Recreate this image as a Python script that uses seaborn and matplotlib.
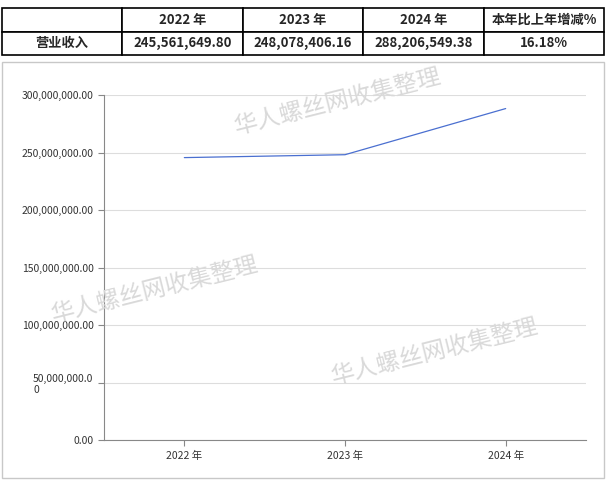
import matplotlib
matplotlib.use('Agg')
import matplotlib.pyplot as plt
import seaborn as sns
import pandas as pd
from matplotlib.patches import Rectangle

# datos
years = ['2022 年', '2023 年', '2024 年']
revenue = [245561649.80, 248078406.16, 288206549.38]
growth = '16.18%'
y_ticks = [0, 50e6, 100e6, 150e6, 200e6, 250e6, 300e6]
y_labels = ['0.00', '50,000,000.0\n0', '100,000,000.00', '150,000,000.00',
            '200,000,000.00', '250,000,000.00', '300,000,000.00']

sns.set_style('white')
plt.rcParams['font.family'] = ['Noto Sans CJK SC', 'DejaVu Sans']

fig = plt.figure(figsize=(6.06, 4.82), dpi=100)

# tabla superior
tax = fig.add_axes([2/606, 1 - 55/482, 602/606, 47/482])
tax.axis('off')
cells = [[''] + years + ['本年比上年增减%'],
         ['营业收入'] + [f'{v:,.2f}' for v in revenue] + [growth]]
widths = [120, 121, 120, 121, 120]
widths = [w / sum(widths) for w in widths]
tbl = tax.table(cellText=cells, colWidths=widths, cellLoc='center', bbox=[0, 0, 1, 1])
tbl.auto_set_font_size(False)
for (r, c), cell in tbl.get_celld().items():
    cell.set_linewidth(1.2)
    cell.get_text().set_fontsize(9.5)
    cell.get_text().set_fontweight('bold')

# marco del gráfico
fig.patches.append(Rectangle((2/606, 1 - 478/482), 602/606, 416/482, transform=fig.transFigure,
                             fill=False, edgecolor='#c8c8c8', linewidth=1))

ax = fig.add_axes([104/606, 1 - 440/482, 482/606, 345/482])
df = pd.DataFrame({'year': years, 'revenue': revenue})
sns.lineplot(data=df, x='year', y='revenue', ax=ax, color='#4a6fd0', linewidth=0.9, sort=False)
ax.set_xlim(-0.5, 2.5)
ax.set_ylim(0, 300e6)
ax.set_yticks(y_ticks)
ax.set_yticklabels(y_labels, fontsize=7.5, color='#333333')
for lbl in ax.get_yticklabels():
    if '\n' in lbl.get_text():
        lbl.set_multialignment('left')
ax.tick_params(axis='x', labelsize=7.5, colors='#333333', length=4, color='#888888')
ax.tick_params(axis='y', length=4, color='#888888', left=True)
ax.tick_params(axis='x', bottom=True)
ax.set_xlabel('')
ax.set_ylabel('')
ax.grid(axis='y', color='#dddddd', linewidth=0.8)
for side in ['top', 'right']:
    ax.spines[side].set_visible(False)
for side in ['left', 'bottom']:
    ax.spines[side].set_color('#888888')
    ax.spines[side].set_linewidth(0.8)

# marcas de agua
for x, y in [(338, 102), (155, 290), (435, 352)]:
    fig.text(x/606, 1 - y/482, '华人螺丝网收集整理', fontsize=17, color='#d9d9d9',
             rotation=14, ha='center', va='center', zorder=0)

fig.savefig('out.png', dpi=100)
